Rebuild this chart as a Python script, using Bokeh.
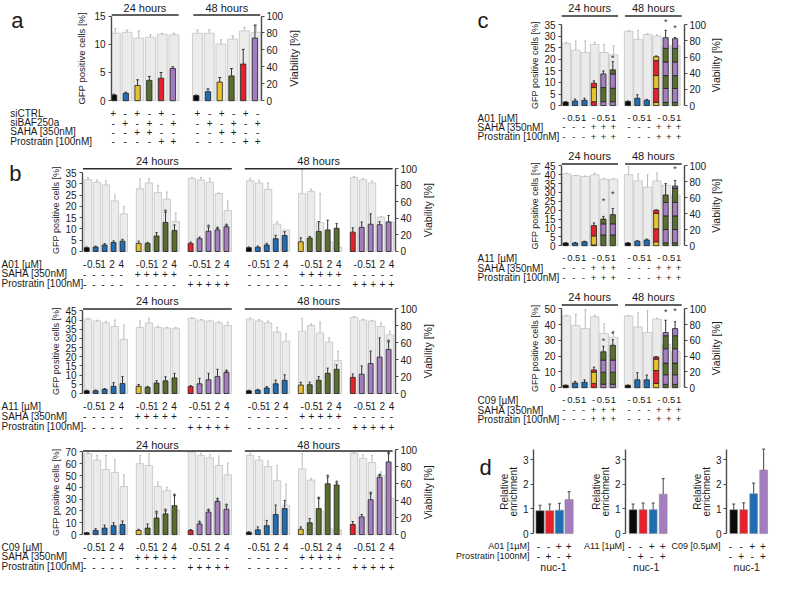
import math
from bokeh.plotting import figure
from bokeh.models import Range1d, LinearAxis, FixedTicker, ColumnDataSource
from bokeh.layouts import column, row
from bokeh.embed import file_html
from bokeh.resources import INLINE
from bokeh.core.properties import value

FONT = "Liberation Sans"
TXT = "#1a1a1a"
AXC = "#4a4a4a"
COLORS = {"k": "#0a0a0a", "b": "#1f6db3", "y": "#e8c22c", "g": "#596f2e", "r": "#e5222b", "p": "#a47cc0"}
GFILL, GLINE, GERR, CERR = "#ebebeb", "#c4c4c4", "#b8b8b8", "#333333"

# ---------------- panel a data ----------------
a_colors = ["k", "b", "y", "g", "r", "p"]
a_gfp_24 = [1.0, 1.3, 2.7, 3.6, 4.0, 5.7]
a_gfp_24_err = [0.15, 0.2, 1.0, 0.7, 1.0, 0.3]
a_gfp_48 = [0.9, 1.6, 3.3, 4.4, 6.5, 11.1]
a_gfp_48_err = [0.1, 0.5, 0.8, 1.3, 2.6, 2.3]
a_via_24 = [79.7, 80.8, 73.9, 75.1, 78.5, 77.8]
a_via_24_err = [5.7, 2.7, 8.4, 2.7, 1.1, 1.9]
a_via_48 = [79.7, 79.7, 67.0, 72.8, 82.4, 80.8]
a_via_48_err = [3.8, 3.8, 5.0, 3.8, 4.2, 8.4]
a_row_names = ["siCTRL", "siBAF250a", "SAHA [350nM]", "Prostratin [100nM]"]
a_row_signs = [["+", "-", "+", "-", "+", "-"], ["-", "+", "-", "+", "-", "+"],
               ["-", "-", "+", "+", "-", "-"], ["-", "-", "-", "-", "+", "+"]]

# ---------------- panel b data ----------------
b_conc = ["-", "0.5", "1", "2", "4"]
b_group_colors = [("k", "b"), ("y", "g"), ("r", "p"), ("k", "b"), ("y", "g"), ("r", "p")]
b_saha = ["-", "+", "-", "-", "+", "-"]
b_prost = ["-", "-", "+", "-", "-", "+"]

A01_gfp = [[1.7, 2.0, 2.9, 4.0, 4.6], [3.6, 3.6, 6.9, 12.9, 9.3], [3.6, 5.7, 9.0, 9.6, 11.0],
           [1.7, 1.9, 2.9, 5.7, 7.1], [4.3, 6.0, 8.9, 9.6, 10.3], [8.6, 10.7, 12.1, 11.9, 13.1]]
A01_err = [[0.3, 0.4, 0.6, 0.7, 0.8], [1.0, 0.5, 1.5, 4.5, 2.5], [0.6, 0.7, 1.7, 0.6, 0.4],
           [0.3, 0.5, 0.7, 1.5, 1.7], [1.8, 0.7, 4.4, 4.3, 2.1], [1.9, 2.4, 4.6, 1.3, 2.9]]
A01_via = [[86.8, 83.7, 80.5, 61.1, 45.5], [75.9, 82.9, 71.2, 63.4, 36.2], [88.3, 86.4, 83.7, 70.0, 49.4],
           [85.6, 82.9, 75.1, 33.1, 26.1], [70.0, 72.8, 35.0, 11.7, 5.0], [89.5, 86.8, 82.9, 41.6, 36.0]]
A01_via_err = [[2.7, 2.7, 5.0, 7.0, 9.0], [11.7, 5.4, 8.6, 8.5, 10.5], [1.2, 3.1, 4.7, 0.8, 11.7],
               [3.0, 3.5, 7.8, 3.0, 0.0], [29.0, 2.7, 35.0, 0.0, 0.0], [1.0, 1.5, 2.5, 1.0, 0.0]]
A01_stars = [[], [3], [2, 3, 4], [], [], []]

A11_gfp = [[1.5, 1.5, 2.3, 3.9, 5.4], [3.9, 3.4, 5.7, 6.9, 8.5], [3.8, 5.3, 7.5, 9.2, 11.5],
           [1.5, 1.9, 3.0, 5.3, 7.2], [4.6, 4.8, 7.2, 11.0, 13.2], [8.8, 10.5, 16.3, 19.8, 24.0]]
A11_err = [[0.3, 0.4, 0.4, 2.0, 3.8], [1.0, 0.5, 1.3, 2.2, 2.5], [0.5, 3.0, 3.5, 4.0, 0.4],
           [0.3, 0.4, 0.8, 2.0, 3.0], [1.5, 1.4, 2.0, 2.8, 2.4], [1.8, 4.5, 6.8, 10.5, 4.0]]
A11_via = [[87.9, 85.7, 83.5, 79.2, 64.0], [78.1, 83.5, 78.1, 77.4, 77.0], [88.9, 86.8, 85.7, 83.5, 80.3],
           [87.9, 85.7, 83.5, 72.7, 61.8], [73.8, 80.3, 71.6, 60.7, 39.0], [90.0, 86.8, 85.7, 79.2, 69.4]]
A11_via_err = [[0.9, 0.9, 1.7, 7.6, 17.0], [7.6, 5.4, 1.5, 1.0, 1.0], [0.6, 0.6, 0.7, 1.5, 4.3],
               [1.5, 1.7, 2.2, 5.4, 8.7], [15.0, 2.0, 13.0, 5.0, 11.0], [1.0, 1.0, 0.7, 4.3, 4.3]]
A11_stars = [[], [], [4], [], [], [4]]

C09_gfp = [[1.5, 3.5, 5.5, 7.5, 8.5], [3.5, 5.5, 14.0, 17.5, 24.5], [3.5, 9.0, 19.0, 28.0, 21.5],
           [2.0, 4.0, 7.5, 17.0, 22.0], [4.5, 10.0, 22.0, 43.0, 42.0], [8.5, 15.0, 29.5, 48.5, 61.5]]
C09_err = [[0.3, 1.5, 2.5, 2.5, 3.0], [1.0, 3.5, 4.0, 2.5, 8.5], [0.8, 0.8, 1.3, 1.2, 2.5],
           [0.4, 2.5, 4.5, 8.0, 7.0], [2.0, 3.5, 8.5, 5.5, 1.5], [2.5, 2.0, 5.0, 1.5, 7.0]]
C09_via = [[95.6, 88.0, 76.9, 73.4, 56.8], [83.8, 81.7, 56.8, 51.9, 29.1], [97.6, 93.5, 90.7, 81.7, 70.6],
           [93.5, 88.0, 80.3, 63.7, 34.6], [77.6, 64.4, 27.7, 6.9, 5.5], [96.3, 90.0, 85.2, 69.9, 42.9]]
C09_via_err = [[1.4, 5.5, 16.6, 15.2, 13.9], [9.7, 13.9, 5.5, 4.2, 0.0], [0.7, 2.8, 4.2, 11.1, 13.9],
               [2.8, 4.2, 6.9, 18.0, 25.0], [18.0, 2.1, 0.0, 0.0, 0.0], [0.7, 4.2, 8.3, 4.2, 0.0]]
C09_stars = [[], [2, 3, 4], [1, 2, 3, 4], [], [2, 3, 4], [2, 3, 4]]

# ---------------- panel c data ----------------
c_conc = ["-", "0.5", "1", "-", "0.5", "1"]
c_saha = ["-", "-", "-", "+", "+", "+"]
c_prost = ["-", "-", "-", "+", "+", "+"]
c_simple_colors = ["k", "b", "b"]

cA01_gfp_24 = [1.5, 2.0, 2.3]
cA01_stack_24 = [[("r", 1.7), ("y", 7.8), ("r", 9.7)],
                 [("p", 1.7), ("g", 7.8), ("p", 13.7)],
                 [("p", 1.7), ("g", 7.5), ("p", 13.7), ("g", 15.5)]]
cA01_err_24 = [0.2, 0.8, 0.9, 1.0, 1.3, 3.5]
cA01_via_24 = [77.1, 68.6, 65.7, 75.7, 65.7, 62.9]
cA01_via_err_24 = [1.4, 11.4, 14.3, 2.9, 10.0, 11.4]
cA01_stars_24 = [(5, 20.6)]
cA01_gfp_48 = [1.8, 3.2, 2.3]
cA01_stack_48 = [[("y", 1.4), ("r", 7.4), ("y", 13.0), ("r", 19.5), ("y", 21.2)],
                 [("g", 1.4), ("p", 7.4), ("g", 13.0), ("p", 18.9), ("g", 24.8), ("p", 29.4)],
                 [("g", 1.4), ("p", 7.4), ("g", 13.0), ("p", 18.9), ("g", 24.8), ("p", 29.0)]]
cA01_err_48 = [0.2, 1.5, 0.4, 0.3, 3.2, 0.5]
cA01_via_48 = [92.0, 82.0, 88.0, 86.0, 74.0, 74.0]
cA01_via_err_48 = [1.0, 11.0, 1.0, 1.5, 0.0, 0.0]
cA01_stars_48 = [(4, 36.4), (5, 33.6)]

cA11_gfp_24 = [1.5, 1.5, 2.2]
cA11_stack_24 = [[("r", 0.4), ("y", 5.5), ("r", 11.3)],
                 [("g", 6.0), ("p", 12.3), ("g", 15.0)],
                 [("g", 6.0), ("p", 12.3), ("g", 17.5)]]
cA11_err_24 = [0.2, 0.3, 0.3, 1.5, 1.5, 3.5]
cA11_via_24 = [90.0, 87.8, 86.7, 88.9, 83.3, 83.3]
cA11_via_err_24 = [1.1, 0.4, 0.7, 2.2, 1.1, 1.1]
cA11_stars_24 = [(4, 25.0), (5, 29.0)]
cA11_gfp_48 = [1.5, 2.5, 3.2]
cA11_stack_48 = [[("y", 2.2), ("r", 9.5), ("y", 18.2), ("r", 20.0)],
                 [("g", 1.6), ("p", 9.1), ("g", 16.8), ("p", 24.4), ("g", 28.6)],
                 [("g", 1.6), ("p", 9.1), ("g", 16.8), ("p", 24.4), ("g", 32.5), ("p", 33.7)]]
cA11_err_48 = [0.2, 0.3, 0.5, 0.2, 6.4, 3.1]
cA11_via_48 = [88.9, 81.1, 73.3, 81.1, 75.6, 63.3]
cA11_via_err_48 = [10.0, 8.9, 15.6, 10.0, 0.0, 0.0]
cA11_stars_48 = [(5, 43.5)]

cC09_gfp_24 = [1.5, 3.0, 3.5]
cC09_stack_24 = [[("r", 2.7), ("y", 9.9), ("r", 11.3)],
                 [("p", 2.2), ("g", 9.8), ("p", 17.5), ("g", 22.8)],
                 [("p", 2.2), ("g", 9.8), ("p", 17.5), ("g", 26.9)]]
cC09_err_24 = [0.2, 1.0, 1.5, 1.7, 3.5, 3.6]
cC09_via_24 = [91.0, 79.0, 75.0, 90.0, 69.0, 64.0]
cC09_via_err_24 = [1.0, 14.0, 24.0, 2.0, 12.0, 8.0]
cC09_stars_24 = [(4, 29.4), (5, 34.0)]
cC09_gfp_48 = [1.5, 5.0, 5.0]
cC09_stack_48 = [[("y", 2.7), ("r", 10.9), ("y", 18.1), ("r", 19.5)],
                 [("g", 2.1), ("p", 8.2), ("g", 15.6), ("p", 24.7), ("g", 33.0), ("p", 35.0)],
                 [("g", 2.1), ("p", 8.2), ("g", 15.6), ("p", 24.7), ("g", 33.0), ("p", 37.5)]]
cC09_err_48 = [0.2, 4.5, 3.0, 0.3, 7.8, 4.3]
cC09_via_48 = [91.0, 77.0, 70.0, 87.0, 55.0, 46.0]
cC09_via_err_48 = [0.6, 18.0, 28.0, 1.0, 0.0, 0.0]
cC09_stars_48 = [(4, 47.9), (5, 48.6)]

# ---------------- panel d data ----------------
d_colors = ["k", "r", "b", "p"]
d_compound = ["-", "-", "+", "+"]
d_prost = ["-", "+", "-", "+"]
d_A01 = [0.93, 0.93, 0.95, 1.38]
d_A01_err = [0.22, 0.27, 0.28, 0.32]
d_A11 = [0.97, 0.97, 0.97, 1.60]
d_A11_err = [0.23, 0.27, 0.27, 0.63]
d_C09 = [0.97, 0.97, 1.62, 2.58]
d_C09_err = [0.23, 0.28, 0.43, 0.85]

# ---------------- layout helpers ----------------
SX = 773 / 789
SY = 573 / 589
SIGN_FONT = "10px"
LETTER_FONT = "22px"


def sxr(v):
    return int(round(v * SX))


def syr(v):
    return int(round(v * SY))


def geom(box):
    x0, y0, x1, y1 = box
    return sxr(x0), syr(y0), sxr(x1), syr(y1)


def style_axis(ax, ticks, bounds, standoff=3):
    ax.ticker = FixedTicker(ticks=ticks)
    ax.bounds = bounds
    ax.axis_line_color = AXC
    ax.axis_line_width = 1.4
    ax.major_tick_line_color = AXC
    ax.major_tick_line_width = 1
    ax.major_tick_out = 3
    ax.major_tick_in = 0
    ax.minor_tick_line_color = None
    ax.major_label_text_font = FONT
    ax.major_label_text_font_size = "10px"
    ax.major_label_text_color = TXT
    ax.major_label_standoff = standoff


def blank_fig(box, xr, yr):
    X0, Y0, X1, Y1 = geom(box)
    p = figure(width=X1 - X0, height=Y1 - Y0, title=None, output_backend="svg", toolbar_location=None,
               x_range=Range1d(*xr), y_range=Range1d(*yr), x_axis_location=None, y_axis_location=None,
               min_border=0, frame_align=False)
    p.outline_line_color = None
    p.xgrid.visible = False
    p.ygrid.visible = False
    return p


def text_fig(box, px0=None, ppx=None):
    X0, Y0, X1, Y1 = geom(box)
    if px0 is None:
        xr = (X0 / SX, X1 / SX)
    else:
        xr = ((X0 / SX - px0) / ppx, (X1 / SX - px0) / ppx)
    return blank_fig(box, xr, (Y1 / SY, Y0 / SY))


def main_fig(box, L, R, px0, ppx, B, ppu, ticks, ytop, ppur=None, tick_standoff=3):
    X0, Y0, X1, Y1 = geom(box)
    Ls, Rs = sxr(L), sxr(R)
    xr = ((Ls / SX - px0) / ppx, (Rs / SX - px0) / ppx)
    y0e, y1e = Y0 / SY, Y1 / SY
    p = figure(width=X1 - X0, height=Y1 - Y0, title=None, output_backend="svg", toolbar_location=None,
               x_range=Range1d(*xr), y_range=Range1d(-(y1e - B) / ppu, (B - y0e) / ppu),
               x_axis_location=None, min_border_left=Ls - X0, min_border_right=X1 - Rs,
               min_border_top=0, min_border_bottom=0, frame_align=False)
    p.xgrid.visible = False
    p.ygrid.visible = False
    p.outline_line_color = None
    style_axis(p.yaxis[0], ticks, (0, ytop), tick_standoff)
    if ppur is not None:
        p.extra_y_ranges = {"via": Range1d(-(y1e - B) / ppur, (B - y0e) / ppur)}
        rax = LinearAxis(y_range_name="via")
        style_axis(rax, [0, 20, 40, 60, 80, 100], (0, 100), 2)
        p.add_layout(rax, "right")
    return p


def put_text(p, xs, ys, texts, size="10px", align="center", baseline="middle", angle=0.0):
    p.text(x=xs, y=ys, text=texts, text_font=value(FONT), text_font_size=size, text_align=align,
           text_baseline=baseline, text_color=TXT, angle=angle)


def vlabel(p, x, y, text, size):
    put_text(p, [x], [y], [text], size=size, angle=math.pi / 2)


def sign_rows(p, xs, rows, ys_ref, size=SIGN_FONT):
    xx, yy, tt = [], [], []
    for r, y in zip(rows, ys_ref):
        for x, t in zip(xs, r):
            xx.append(x)
            yy.append(y)
            tt.append(t)
    put_text(p, xx, yy, tt, size=size)


def bars(p, xs, tops, errs, fills, width, line, errc, cap, rng="default", lw=0.8):
    src = ColumnDataSource(dict(x=xs, top=tops, c=fills))
    p.vbar(x="x", top="top", bottom=0, width=width, fill_color="c", line_color=line,
           line_width=lw, source=src, y_range_name=rng)
    ex = [x for x, e in zip(xs, errs) if e > 0]
    e0 = [t for t, e in zip(tops, errs) if e > 0]
    e1 = [t + e for t, e in zip(tops, errs) if e > 0]
    p.segment(x0=ex, y0=e0, x1=ex, y1=e1, line_color=errc, line_width=1, y_range_name=rng)
    p.segment(x0=[x - cap for x in ex], y0=e1, x1=[x + cap for x in ex], y1=e1,
              line_color=errc, line_width=1, y_range_name=rng)


def stars(p, xs, ys):
    if xs:
        p.text(x=xs, y=ys, text=["*"] * len(xs), text_font=value(FONT), text_font_size="9px",
               text_align="center", text_baseline="alphabetic", text_color="#333333")


def headers(p, B, ppu, line_ref, text_ref, h24, h48):
    yl = (B - line_ref) / ppu
    for x0, x1 in (h24, h48):
        p.segment(x0=[x0], y0=[yl], x1=[x1], y1=[yl], line_color="#2a2a2a", line_width=1.5)
    yt = (B - text_ref) / ppu
    put_text(p, [sum(h24) / 2, sum(h48) / 2], [yt, yt], ["24 hours", "48 hours"], size="11px")


def flat(v):
    return [x for g in v for x in g]


# ---------------- panel a ----------------
A_PX0, A_PPX = 115, 12.3
A_END = 155


def panel_a():
    B = 103
    split = B + 6.5
    ppu = (B - 16) / 15
    ppur = (B - 16) / 100
    left = text_fig((0, 0, 93, split))
    put_text(left, [11], [20.5], ["a"], size=LETTER_FONT, align="left", baseline="alphabetic")
    vlabel(left, 83, 59.5, "GFP positive cells [%]", "9.5px")
    main = main_fig((93, 0, 292, split), 112, 269, A_PX0, A_PPX, B, ppu, [0, 5, 10, 15], 15, ppur)
    right = text_fig((292, 0, 450, split))
    vlabel(right, 300, 59.5, "Viability [%]", "11px")
    signs = text_fig((0, split, 450, A_END), A_PX0, A_PPX)
    xs = [0, 1, 2, 3, 4, 5, 7, 8, 9, 10, 11, 12]
    bars(main, [x + 0.1 for x in xs], a_via_24 + a_via_48, a_via_24_err + a_via_48_err, [GFILL] * 12,
         0.85, GLINE, GERR, 0.1, rng="via")
    bars(main, xs, a_gfp_24 + a_gfp_48, a_gfp_24_err + a_gfp_48_err, [COLORS[c] for c in a_colors] * 2,
         0.45, "#222222", CERR, 0.12)
    headers(main, B, ppu, 15, 8, (-0.24, 5.5), (6.75, 12.45))
    rows_y = [116, 125.5, 135, 144.5]
    sign_rows(signs, xs, [r * 2 for r in a_row_signs], rows_y)
    put_text(signs, [(10 - A_PX0) / A_PPX] * 4, rows_y, a_row_names, size=SIGN_FONT, align="left")
    return [row(left, main, right), signs]


# ---------------- panel b ----------------
B_PX0, B_PPX = 86, 9.29
b_x = [[g * 5.8 + i + (0.7 if g >= 3 else 0) for i in range(5)] for g in range(6)]


def panel_b(y0, y1, B, vtick, ytick_ref, r100_ref, line_ref, text_ref, rows_ref, ticks, name,
            gfp, err, via, verr, st, letter=None):
    split = B + 6.5
    ppu = (B - ytick_ref) / vtick
    ppur = (B - r100_ref) / 100
    ymid = (B + r100_ref) / 2
    left = text_fig((0, y0, 63, split))
    vlabel(left, 56.5, ymid, "GFP positive cells [%]", "9px")
    if letter:
        put_text(left, [9], [178], [letter], size=LETTER_FONT, align="left", baseline="alphabetic")
    main = main_fig((63, y0, 429, split), 82, 406, B_PX0, B_PPX, B, ppu, ticks, ticks[-1], ppur)
    right = text_fig((429, y0, 450, split))
    vlabel(right, 436, ymid, "Viability [%]", "10.5px")
    signs = text_fig((0, split, 450, y1), B_PX0, B_PPX)
    xs = flat(b_x)
    bars(main, [x + 0.15 for x in xs], flat(via), flat(verr), [GFILL] * 30, 0.82, GLINE, GERR, 0.1, rng="via")
    cols = [COLORS[b_group_colors[g][0 if i == 0 else 1]] for g in range(6) for i in range(5)]
    bars(main, xs, flat(gfp), flat(err), cols, 0.55, "#222222", CERR, 0.12)
    sx, sy = [], []
    for g, idxs in enumerate(st):
        for i in idxs:
            sx.append(b_x[g][i])
            sy.append(gfp[g][i] + err[g][i])
    stars(main, sx, sy)
    headers(main, B, ppu, line_ref, text_ref,
            (b_x[0][0] - 0.43, b_x[2][4] + 0.6), (b_x[3][0] - 0.45, b_x[5][4] + 0.45))
    signs_rows = [b_conc * 6, [s for s in b_saha for _ in range(5)], [s for s in b_prost for _ in range(5)]]
    sign_rows(signs, xs, signs_rows, rows_ref)
    put_text(signs, [(1 - B_PX0) / B_PPX] * 3, rows_ref, [name, "SAHA [350nM]", "Prostratin [100nM]"],
             size=SIGN_FONT, align="left")
    return [row(left, main, right), signs]


# ---------------- panel c ----------------
C_PX0, C_PPX = 575, 10.1
c_x24 = [0, 1, 2, 3, 4, 5]
c_x48 = [6.6 + i for i in range(6)]


def draw_c_time(p, xs, simple, stack, errs, via, verr, st):
    bars(p, [x + 0.08 for x in xs], via, verr, [GFILL] * 6, 0.9, GLINE, GERR, 0.1, rng="via")
    bars(p, xs[:3], simple, errs[:3], [COLORS[c] for c in c_simple_colors], 0.55, "#222222", CERR, 0.12)
    bx, bb, bt, bc, tops = [], [], [], [], []
    for x, segs in zip(xs[3:], stack):
        prev = 0.0
        for c, t in segs:
            bx.append(x)
            bb.append(prev)
            bt.append(t)
            bc.append(COLORS[c])
            prev = t
        tops.append(prev)
    p.vbar(x=bx, bottom=bb, top=bt, width=0.55, fill_color=bc, line_color="#222222", line_width=0.8)
    ex = xs[3:]
    e1 = [t + e for t, e in zip(tops, errs[3:])]
    p.segment(x0=ex, y0=tops, x1=ex, y1=e1, line_color=CERR, line_width=1)
    p.segment(x0=[x - 0.12 for x in ex], y0=e1, x1=[x + 0.12 for x in ex], y1=e1, line_color=CERR,
              line_width=1)
    stars(p, [xs[i] for i, _ in st], [y for _, y in st])


def panel_c(y0, y1, B, vtick, ytick_ref, line_ref, text_ref, rows_ref, name, d24, d48, letter=None):
    split = B + 6.5
    ppu = (B - ytick_ref) / vtick
    ppur = (B - ytick_ref) / 100
    ymid = (B + ytick_ref) / 2
    ticks = list(range(0, vtick + 1, 5 if vtick < 50 else 10))
    left = text_fig((450, y0, 552, split))
    vlabel(left, 546, ymid, "GFP positive cells [%]", "9px")
    if letter:
        put_text(left, [487], [20.5], [letter], size=LETTER_FONT, align="left", baseline="alphabetic")
    main = main_fig((552, y0, 724, split), 571, 702, C_PX0, C_PPX, B, ppu, ticks, vtick, ppur)
    right = text_fig((724, y0, 789, split))
    vlabel(right, 730, ymid, "Viability [%]", "10.5px")
    signs = text_fig((450, split, 789, y1), C_PX0, C_PPX)
    draw_c_time(main, c_x24, *d24)
    draw_c_time(main, c_x48, *d48)
    headers(main, B, ppu, line_ref, text_ref,
            (c_x24[0] - 0.45, c_x24[-1] + 0.55), (c_x48[0] - 0.3, c_x48[-1] + 0.7))
    xs = c_x24 + c_x48
    sign_rows(signs, xs, [c_conc * 2, c_saha * 2, c_prost * 2], rows_ref, size="9.5px")
    put_text(signs, [(487 - C_PX0) / C_PPX] * 3, rows_ref, [name, "SAHA [350nM]", "Prostratin [100nM]"],
             size=SIGN_FONT, align="left")
    return [row(left, main, right), signs]


# ---------------- panel d ----------------
D_B = 548
D_SPLIT = D_B + 6.5


def panel_d(x0, xm, x1, L, R, px0, ppx, vals, errs, width, lab_x, name, name_x_ref, prost_name, letter=None):
    ppu = (D_B - 472) / 3
    left = text_fig((x0, 437, xm, D_SPLIT))
    put_text(left, [lab_x, lab_x + 9], [505, 505], ["Relative", "enrichment"], size="10px",
             angle=math.pi / 2)
    if letter:
        put_text(left, [489], [480], [letter], size=LETTER_FONT, align="left", baseline="alphabetic")
    main = main_fig((xm, 437, x1, D_SPLIT), L, R, px0, ppx, D_B, ppu, [0, 1, 2, 3], (D_B - 462) / ppu,
                    tick_standoff=2)
    xs = [0, 1, 2, 3]
    bars(main, xs, vals, errs, [COLORS[c] for c in d_colors], width, "#8a8a8a", "#444444", 0.15, lw=0.6)
    s = text_fig((x0, D_SPLIT, x1, 589), px0, ppx)
    sign_rows(s, xs, [d_compound, d_prost], [561, 570.5])
    put_text(s, [(name_x_ref - px0) / ppx], [561], [name], size="9px", align="right")
    if prost_name:
        put_text(s, [(name_x_ref - px0) / ppx], [570.5], ["Prostratin [100nM]"], size="9px", align="right")
    put_text(s, [1.5], [582], ["nuc-1"], size="10.5px")
    return column(row(left, main), s)


left_parts = []
left_parts += panel_a()
left_parts += panel_b(A_END, 298, 258, 35, 177, 173, 173, 165, [271, 281, 291],
                      [0, 5, 10, 15, 20, 25, 30, 35], "A01 [µM]", A01_gfp, A01_err, A01_via, A01_via_err,
                      A01_stars, letter="b")
left_parts += panel_b(298, 447, 404, 45, 319, 317, 317, 309, [417, 427.5, 438],
                      [0, 5, 10, 15, 20, 25, 30, 35, 40, 45], "A11 [µM]", A11_gfp, A11_err, A11_via,
                      A11_via_err, A11_stars)
left_parts += panel_b(447, 589, 549, 70, 464, 462, 463, 457, [562, 572, 582],
                      [0, 10, 20, 30, 40, 50, 60, 70], "C09 [µM]", C09_gfp, C09_err, C09_via, C09_via_err,
                      C09_stars)

right_parts = []
right_parts += panel_c(0, 146, 108, 35, 25, 16, 8, [121, 130.5, 140], "A01 [µM]",
                       (cA01_gfp_24, cA01_stack_24, cA01_err_24, cA01_via_24, cA01_via_err_24, cA01_stars_24),
                       (cA01_gfp_48, cA01_stack_48, cA01_err_48, cA01_via_48, cA01_via_err_48, cA01_stars_48),
                       letter="c")
right_parts += panel_c(146, 292, 252, 45, 170, 168, 160, [265, 275, 285], "A11 [µM]",
                       (cA11_gfp_24, cA11_stack_24, cA11_err_24, cA11_via_24, cA11_via_err_24, cA11_stars_24),
                       (cA11_gfp_48, cA11_stack_48, cA11_err_48, cA11_via_48, cA11_via_err_48, cA11_stars_48))
right_parts += panel_c(292, 437, 398, 50, 317, 313, 305, [411, 421, 430.5], "C09 [µM]",
                       (cC09_gfp_24, cC09_stack_24, cC09_err_24, cC09_via_24, cC09_via_err_24, cC09_stars_24),
                       (cC09_gfp_48, cC09_stack_48, cC09_err_48, cC09_via_48, cC09_via_err_48, cC09_stars_48))

d1 = panel_d(450, 530, 590, 542, 590, 549, 10.3, d_A01, d_A01_err, 0.85, 514.5, "A01 [1µM]", 540, True,
             letter="d")
d2 = panel_d(590, 624, 682, 634, 682, 642.3, 11.2, d_A11, d_A11_err, 0.78, 608.5, "A11 [1µM]", 637, False)
d3 = panel_d(682, 727, 789, 737, 786, 745, 11.1, d_C09, d_C09_err, 0.78, 711.5, "C09 [0.5µM]", 735, False)
right_parts.append(row(d1, d2, d3))

layout = row(column(*left_parts), column(*right_parts))

open("out.html", "w").write(file_html(layout, INLINE))
